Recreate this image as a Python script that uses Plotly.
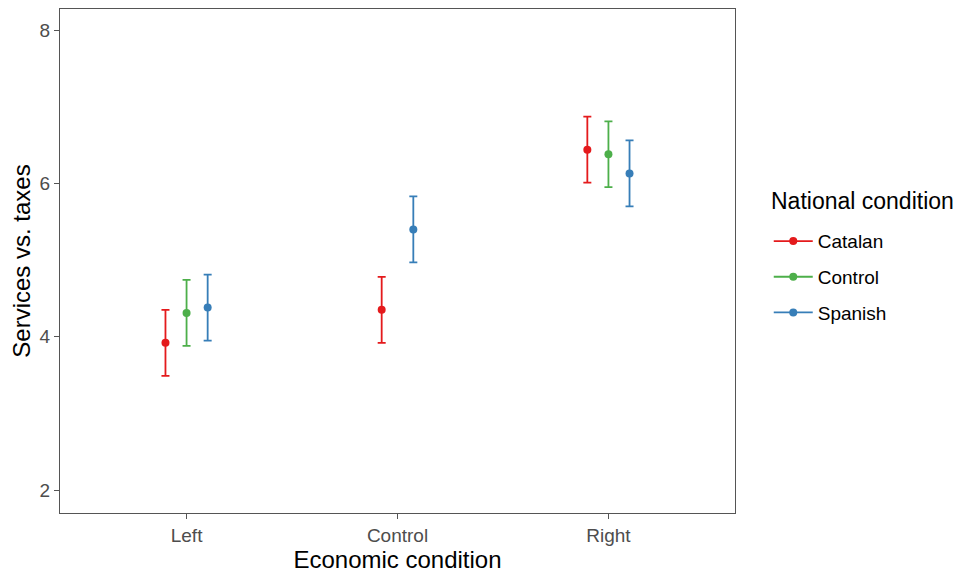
import plotly.graph_objects as go

categories = ["Left", "Control", "Right"]
groups = ["Catalan", "Control", "Spanish"]
colors = {"Catalan": "#E41A1C", "Control": "#4DAF4A", "Spanish": "#377EB8"}

# mean and CI half-width per national condition, by economic condition
catalan_cat = ["Left", "Control", "Right"]
catalan_mean = [3.92, 4.35, 6.44]
catalan_err = [0.43, 0.43, 0.43]

control_cat = ["Left", "Right"]
control_mean = [4.31, 6.38]
control_err = [0.43, 0.43]

spanish_cat = ["Left", "Control", "Right"]
spanish_mean = [4.38, 5.40, 6.13]
spanish_err = [0.43, 0.43, 0.43]

data = {
    "Catalan": (catalan_cat, catalan_mean, catalan_err),
    "Control": (control_cat, control_mean, control_err),
    "Spanish": (spanish_cat, spanish_mean, spanish_err),
}

dodge_width = 0.3

# groups present at each category (for dodging like ggplot position_dodge)
present = {c: [g for g in groups if c in data[g][0]] for c in categories}

fig = go.Figure()
for g in groups:
    cats, means, errs = data[g]
    xs = []
    for c in cats:
        members = present[c]
        n = len(members)
        k = members.index(g)
        offset = -dodge_width / 2 + dodge_width / n * (k + 0.5)
        xs.append(categories.index(c) + offset)
    fig.add_trace(go.Scatter(
        x=xs, y=means, mode="markers",
        marker=dict(color=colors[g], size=8),
        error_y=dict(type="data", array=errs, visible=True,
                     color=colors[g], thickness=1.8, width=4),
        showlegend=False, hoverinfo="skip",
    ))
    fig.add_trace(go.Scatter(
        x=[None], y=[None], mode="lines+markers", name=g, legendgroup=g,
        line=dict(color=colors[g], width=1.8),
        marker=dict(color=colors[g], size=8),
    ))

axis_common = dict(
    showline=True, linecolor="#555555", linewidth=1, mirror=True,
    showgrid=False, zeroline=False,
    ticks="outside", ticklen=5, tickcolor="#555555", tickwidth=1,
    tickfont=dict(family="Liberation Sans, Arial, sans-serif", size=19, color="#4D4D4D"),
)

fig.update_layout(
    width=961, height=568,
    paper_bgcolor="white", plot_bgcolor="white",
    margin=dict(l=52, r=234, t=1, b=63),
    font=dict(family="Liberation Sans, Arial, sans-serif"),
    xaxis=dict(
        **axis_common,
        range=[-0.6, 2.6],
        tickvals=[0, 1, 2], ticktext=categories,
        title=dict(text="Economic condition", font=dict(size=24, color="black"), standoff=4),
    ),
    yaxis=dict(
        **axis_common,
        range=[1.70, 8.275],
        tickvals=[2, 4, 6, 8],
        title=dict(text="Services vs. taxes", font=dict(size=24, color="black"), standoff=12),
    ),
    legend=dict(
        font=dict(size=19, color="black"),
        x=1.05, y=0.577, xanchor="left", yanchor="top",
        itemwidth=39, tracegroupgap=8,
        bgcolor="rgba(0,0,0,0)",
    ),
    annotations=[dict(
        text="National condition", showarrow=False,
        xref="paper", yref="paper", x=1.0503, y=0.619,
        xanchor="left", yanchor="middle",
        font=dict(size=23, color="black"),
    )],
)

fig.write_html("out.html")
